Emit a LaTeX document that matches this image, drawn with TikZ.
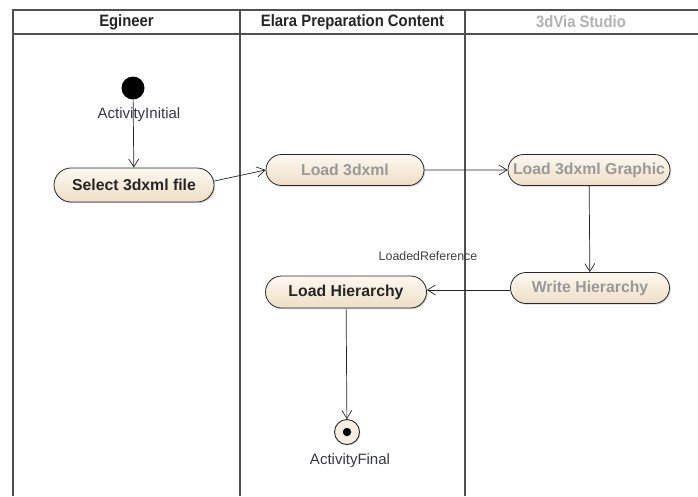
\documentclass[tikz,border=0pt]{standalone}
\usepackage{fontspec}
\setmainfont{Liberation Sans}
\newfontfamily\narrowfont[FakeStretch=0.9]{Liberation Sans}
\usetikzlibrary{arrows.meta,shapes.misc,shadows}
\definecolor{frame}{RGB}{80,80,80}
\definecolor{nodeline}{RGB}{40,40,40}
\definecolor{labtext}{RGB}{55,55,75}
\tikzset{
  x=1pt,y=-1pt,
  lane/.style={draw=frame,line width=1.2pt},
  act/.style={rounded rectangle,draw=nodeline,line width=0.8pt,
    top color={rgb,255:red,253;green,248;blue,240},
    bottom color={rgb,255:red,238;green,222;blue,198},
    drop shadow={shadow xshift=1.2pt,shadow yshift=-1.2pt,opacity=0.35},
    font=\bfseries\fontsize{15.8}{18}\selectfont,text=black!85,inner sep=0pt},
  flow/.style={draw=black!85,line width=0.7pt,-{Straight Barb[length=8pt,width=10pt,line width=0.7pt]}},
  lbl/.style={font=\fontsize{15}{17}\selectfont,text=labtext},
  hdr/.style={font=\narrowfont\bfseries\fontsize{16.5}{18}\selectfont,text=black!85}
}
\begin{document}
\begin{tikzpicture}
\useasboundingbox (0,0) rectangle (698,496);
\fill[white] (0,0) rectangle (698,496);
% swimlane frame
\draw[lane] (698,10) -- (13,10) -- (13,496);
\draw[lane] (13,34) -- (698,34);
\draw[lane] (240,10) -- (240,496);
\draw[lane] (465,10) -- (465,496);
\node[hdr] (h1) at (126.5,22) {Egineer};
\node[hdr] (h2) at (352.5,22) {Elara Preparation Content};
\node[hdr,text=black!30] (h3) at (581,22) {3dVia Studio};
% initial node
\node[circle,fill=black,minimum size=23pt,inner sep=0pt] (init) at (133,88) {};
\node[lbl] (initlbl) at (139,115) {ActivityInitial};
% activities
\node[act,minimum width=160pt,minimum height=34pt] (sel) at (134,185) {Select 3dxml file};
\node[act,minimum width=158pt,minimum height=31pt,text=black!40] (l3d) at (345,170) {Load 3dxml};
\node[act,minimum width=162pt,minimum height=31pt,text=black!40] (lgr) at (589,170) {Load 3dxml Graphic};
\node[act,minimum width=159pt,minimum height=31pt,text=black!40] (wh) at (590,288) {Write Hierarchy};
\node[act,minimum width=161pt,minimum height=32pt] (lh) at (346,292) {Load Hierarchy};
% final node
\node[circle,draw=nodeline,line width=0.9pt,fill={rgb,255:red,245;green,238;blue,225},minimum size=25pt,inner sep=0pt,
  drop shadow={shadow xshift=1pt,shadow yshift=-1pt,opacity=0.3}] (fin) at (347,432) {};
\fill[black] (fin.center) circle (4.2pt);
\node[lbl] (finlbl) at (350,461) {ActivityFinal};
% flows
\draw[flow] (init) -- (sel);
\draw[flow] (sel.east) ++(0,-4) coordinate (s1) -- (l3d.west);
\draw[flow] (l3d) -- (lgr);
\draw[flow] (lgr) -- (wh);
\draw[flow] (wh.west) ++(0,2) coordinate (w1) -- (lh.east |- w1);
\node[font=\fontsize{12.4}{14}\selectfont,text=black!75] (lr) at (428,256) {LoadedReference};
\draw[flow] (lh) -- (fin);
\end{tikzpicture}
\end{document}
